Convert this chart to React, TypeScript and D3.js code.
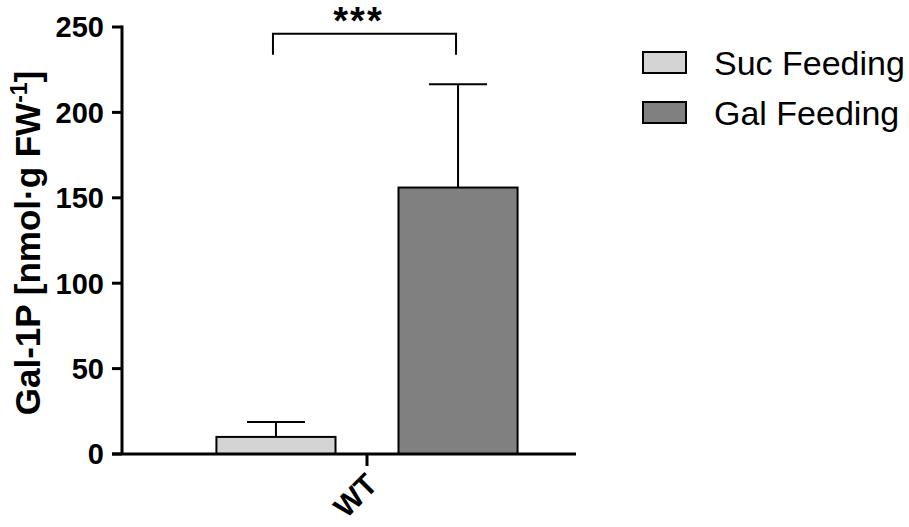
import * as d3 from 'd3'

const groups = ['WT']
const series = ['Suc Feeding', 'Gal Feeding']
const means = [10, 156]
const errors = [8.7, 60.5]
const fills = ['#d4d4d4', '#808080']
const yTicks = [0, 50, 100, 150, 200, 250]

const width = 909
const height = 527
const top = 27
const bottom = 454
const left = 122
const axisEnd = 576

const App = () => {
  const y = d3.scaleLinear().domain([0, 250]).range([bottom, top])
  const x0 = d3
    .scaleBand<string>()
    .domain(groups)
    .range([158, axisEnd])
    .paddingInner(0)
    .paddingOuter(0.194)
  const x1 = d3
    .scaleBand<string>()
    .domain(series)
    .range([0, x0.bandwidth()])
    .paddingInner(0.346)

  const font = 'Arial, "Liberation Sans", sans-serif'
  const g = groups[0]
  const cx = (s: string) => (x0(g) ?? 0) + (x1(s) ?? 0) + x1.bandwidth() / 2
  const tickX = (x0(g) ?? 0) + x0.bandwidth() / 2

  // significance bracket
  const bx1 = cx(series[0]) - 3
  const bx2 = cx(series[1]) - 2
  const by = y(246)

  return (
    <svg width={width} height={height} style={{ display: 'block', position: 'absolute', left: 0, top: 0 }} fontFamily={font}>
      <rect width={width} height={height} fill="#fff" />

      {/* bars */}
      {series.map((s, i) => {
        const bx = (x0(g) ?? 0) + (x1(s) ?? 0)
        return (
          <g key={s}>
            <line
              x1={cx(s)}
              x2={cx(s)}
              y1={y(means[i])}
              y2={y(means[i] + errors[i])}
              stroke="#000"
              strokeWidth={2}
            />
            <line
              x1={cx(s) - 29}
              x2={cx(s) + 29}
              y1={y(means[i] + errors[i])}
              y2={y(means[i] + errors[i])}
              stroke="#000"
              strokeWidth={2}
            />
            <rect
              x={bx}
              y={y(means[i])}
              width={x1.bandwidth()}
              height={bottom - y(means[i])}
              fill={fills[i]}
              stroke="#000"
              strokeWidth={2}
            />
          </g>
        )
      })}

      {/* y axis */}
      <line x1={left} x2={left} y1={top - 1.5} y2={bottom} stroke="#000" strokeWidth={3} />
      {yTicks.map((t) => (
        <g key={t}>
          <line x1={left - 10} x2={left} y1={y(t)} y2={y(t)} stroke="#000" strokeWidth={3} />
          <text
            x={104}
            y={y(t)}
            dy="0.36em"
            textAnchor="end"
            fontSize={29}
            fontWeight="bold"
          >
            {t}
          </text>
        </g>
      ))}
      <text
        transform={`translate(40, 243) rotate(-90)`}
        textAnchor="middle"
        fontSize={35}
        fontWeight="bold"
      >
        Gal-1P [nmol·g FW<tspan dy={-13} fontSize={23}>-1</tspan>
        <tspan dy={13}>]</tspan>
      </text>

      {/* x axis */}
      <line x1={left - 10} x2={axisEnd} y1={bottom} y2={bottom} stroke="#000" strokeWidth={3} />
      <line x1={tickX} x2={tickX} y1={bottom} y2={bottom + 12} stroke="#000" strokeWidth={3} />
      <text
        transform={`translate(${tickX - 3}, ${bottom + 17}) rotate(-45)`}
        textAnchor="end"
        dy="0.72em"
        fontSize={30}
        fontWeight="bold"
      >
        {g}
      </text>

      {/* significance */}
      <path
        d={`M${bx1},${by + 21}V${by}H${bx2}V${by + 21}`}
        fill="none"
        stroke="#000"
        strokeWidth={2}
      />
      <text x={(bx1 + bx2) / 2 - 6} y={34} textAnchor="middle" fontSize={38} fontWeight="bold" letterSpacing={2}>
        ***
      </text>

      {/* legend */}
      {series.map((s, i) => (
        <g key={s} transform={`translate(643, ${52 + i * 50})`}>
          <rect x={0} y={0} width={43} height={21} fill={fills[i]} stroke="#000" strokeWidth={2} />
          <text x={71} y={10.5} dy="0.36em" fontSize={34}>
            {s}
          </text>
        </g>
      ))}
    </svg>
  )
}

export default App
